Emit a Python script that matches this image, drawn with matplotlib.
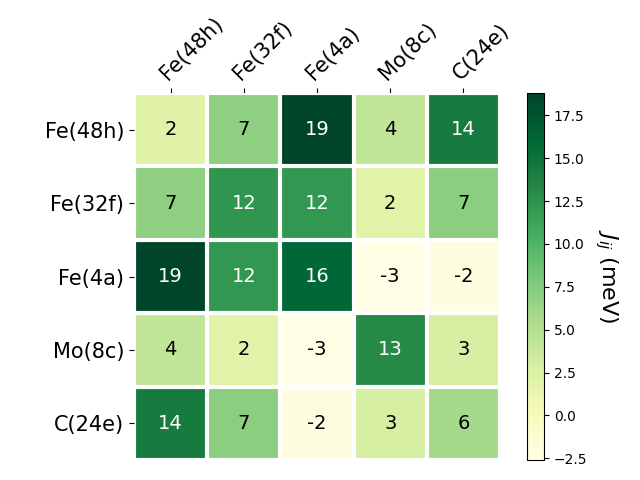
import numpy as np
import matplotlib
matplotlib.use("Agg")
import matplotlib.pyplot as plt

labels = ["Fe(48h)", "Fe(32f)", "Fe(4a)", "Mo(8c)", "C(24e)"]
values = np.array([
    [2.1, 7.0, 18.8, 4.2, 14.3],
    [7.0, 12.2, 12.1, 2.0, 7.1],
    [18.8, 12.1, 16.2, -2.6, -2.2],
    [4.2, 2.0, -2.6, 13.1, 2.9],
    [14.3, 7.1, -2.2, 2.9, 5.8],
])

fig = plt.figure(figsize=(6.4, 4.8), dpi=100)
ax = fig.add_axes([134/640, 20/480, 366/640, 367/480])
cax = fig.add_axes([527/640, 20/480, 17/640, 367/480])

im = ax.imshow(values, cmap="YlGn", aspect="auto")
cbar = fig.colorbar(im, cax=cax)
cbar.ax.set_ylabel("$J_{ij}$ (meV)", rotation=-90, va="bottom", fontsize=16)

ax.set_xticks(np.arange(len(labels)))
ax.set_yticks(np.arange(len(labels)))
ax.set_xticklabels(labels, fontsize=15)
ax.set_yticklabels(labels, fontsize=15)
ax.tick_params(top=True, bottom=False, labeltop=True, labelbottom=False)
plt.setp(ax.get_xticklabels(), rotation=45, ha="left", rotation_mode="anchor")

for s in ax.spines.values():
    s.set_visible(False)
ax.set_xticks(np.arange(len(labels)+1) - .5, minor=True)
ax.set_yticks(np.arange(len(labels)+1) - .5, minor=True)
ax.grid(which="minor", color="w", linestyle='-', linewidth=3)
ax.tick_params(which="minor", bottom=False, left=False, top=False)

thr = im.norm(values.max()) / 2.
for i in range(values.shape[0]):
    for j in range(values.shape[1]):
        c = "white" if im.norm(values[i, j]) > thr else "black"
        ax.text(j, i, f"{values[i, j]:.0f}", ha="center", va="center", color=c, fontsize=14)

fig.savefig("out.png", dpi=100)
